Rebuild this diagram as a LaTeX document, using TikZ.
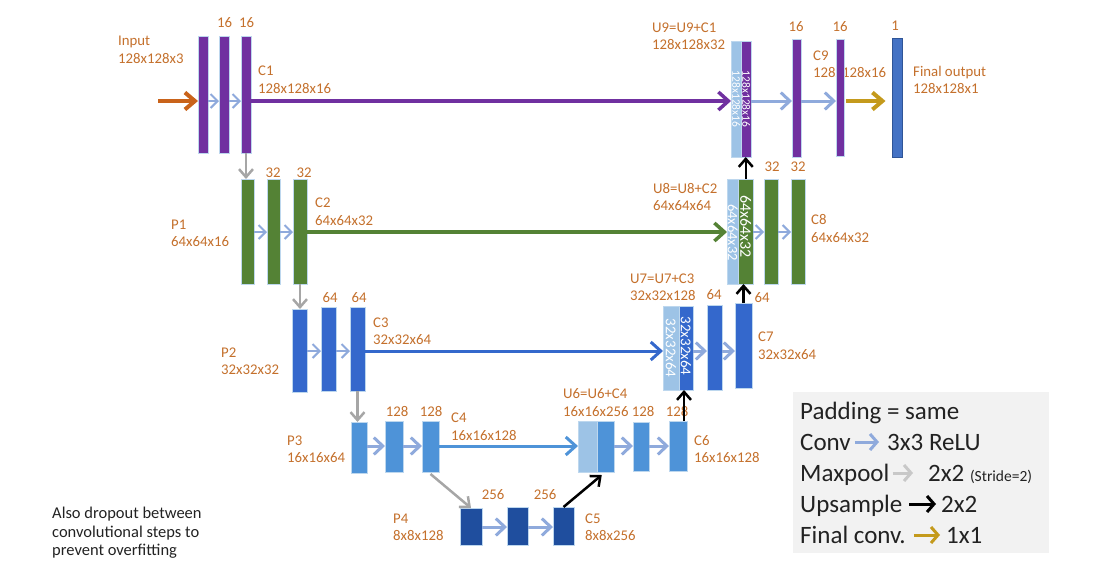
\documentclass[tikz,border=0pt]{standalone}
\usepackage{fontspec}
\setmainfont{Carlito}
\usetikzlibrary{arrows.meta,positioning,calc}
\definecolor{lblc}{HTML}{C4702C}
\definecolor{purp}{HTML}{7030A0}
\definecolor{grn}{HTML}{548235}
\definecolor{blu3}{HTML}{3468CC}
\definecolor{blu4}{HTML}{4E93D8}
\definecolor{blu5}{HTML}{1F4E9E}
\definecolor{outb}{HTML}{4472C4}
\definecolor{outbd}{HTML}{2F5597}
\definecolor{lightb}{HTML}{9DC3E6}
\definecolor{barline}{HTML}{BDD7EE}
\definecolor{convc}{HTML}{8FAADC}
\definecolor{poolc}{HTML}{A6A6A6}
\definecolor{poolleg}{HTML}{C8C8C8}
\definecolor{inc}{HTML}{C9631A}
\definecolor{goldc}{HTML}{C49A1C}
\definecolor{legbg}{HTML}{F2F2F2}
\definecolor{txtc}{HTML}{222222}
\newcommand{\mkbar}[6]{\node[barst,fill=#2,minimum width={(#5-#3)*1pt},minimum height={(#6-#4)*1pt}] (#1) at ({(#3+#5)/2},{(#4+#6)/2}) {};}
\tikzset{
  barst/.style={rectangle, draw=barline, line width=1pt, inner sep=0pt, outer sep=0pt},
  lbl/.style={text=lblc, font=\fontsize{14.8}{17.5}\selectfont, inner sep=0pt, align=left, anchor=west},
  num/.style={text=lblc, font=\fontsize{14.8}{17.5}\selectfont, inner sep=0pt},
  rot/.style={text=white, rotate=-90, inner sep=0pt},
  skip/.style={line width=3.5pt, -{Straight Barb[length=10pt,width=18pt]}},
  conv/.style={convc, line width=2pt, -{Straight Barb[length=7pt,width=14pt]}},
  convbig/.style={convc, line width=3pt, -{Straight Barb[length=9pt,width=17pt]}},
  pool/.style={poolc, line width=2.5pt, -{Straight Barb[length=8pt,width=14pt]}},
  up/.style={black, line width=2.5pt, -{Straight Barb[length=8pt,width=14pt]}},
  inarrow/.style={inc, line width=4pt, -{Straight Barb[length=10pt,width=17pt]}},
  final/.style={goldc, line width=4pt, -{Straight Barb[length=10pt,width=17pt]}},
  legbox/.style={rectangle, fill=legbg, draw=none, inner sep=0pt},
  legtxt/.style={text=txtc, font=\fontsize{25}{29}\selectfont, inner sep=0pt, anchor=base west},
  legarr/.style={line width=3pt, -{Straight Barb[length=7pt,width=16pt]}},
  note/.style={text=txtc, font=\fontsize{16.5}{18.5}\selectfont, inner sep=0pt, align=left, anchor=west}
}
\begin{document}
\begin{tikzpicture}[x=1pt,y=-1pt]
\useasboundingbox (0,0) rectangle (1116,584);
% row coordinates
\coordinate (r1) at (0,101);
\coordinate (r2) at (0,232);
\coordinate (r3) at (0,351);
\coordinate (r4) at (0,446);
\coordinate (r5) at (0,527);
\coordinate (inp) at (158,101);

% ---------- labels ----------
\node[lbl] (Lin) at (118,50) {Input\\128x128x3};
\node[lbl] (Lc1) at (258,79.5) {C1\\128x128x16};
\node[lbl] (Lu9) at (652,36) {U9=U9+C1\\128x128x32};
\node[lbl] (Lc9) at (813,64) {C9\\128x128x16};
\node[lbl] (Lout) at (913,80) {Final output\\128x128x1};
\node[lbl] (Lp1) at (171,233.5) {P1\\64x64x16};
\node[lbl] (Lc2) at (315,211.5) {C2\\64x64x32};
\node[lbl] (Lu8) at (653,197) {U8=U8+C2\\64x64x64};
\node[lbl] (Lc8) at (811,228.5) {C8\\64x64x32};
\node[lbl] (Lp2) at (221,361) {P2\\32x32x32};
\node[lbl] (Lc3) at (373,331) {C3\\32x32x64};
\node[lbl] (Lu7) at (630,287) {U7=U7+C3\\32x32x128};
\node[lbl] (Lc7) at (758,345.5) {C7\\32x32x64};
\node[lbl] (Lp3) at (287,449) {P3\\16x16x64};
\node[lbl] (Lc4) at (451,426.5) {C4\\16x16x128};
\node[lbl] (Lu6) at (563,402.5) {U6=U6+C4\\16x16x256};
\node[lbl] (Lc6) at (694,449) {C6\\16x16x128};
\node[lbl] (Lp4) at (393,527.5) {P4\\8x8x128};
\node[lbl] (Lc5) at (585,527) {C5\\8x8x256};

\node[num] (n12) at (224.5,23) {16};
\node[num] (n13) at (246.5,23) {16};
\node[num] (n92) at (796,27) {16};
\node[num] (n93) at (840,27) {16};
\node[num] (nout) at (895,26) {1};
\node[num] (n22) at (273,173) {32};
\node[num] (n23) at (304,173) {32};
\node[num] (n82) at (772,167) {32};
\node[num] (n83) at (798,167) {32};
\node[num] (n32) at (330,298) {64};
\node[num] (n33) at (359,298) {64};
\node[num] (n72) at (714,295) {64};
\node[num] (n73) at (762,298) {64};
\node[num] (n42) at (397,411.5) {128};
\node[num] (n43) at (431,411.5) {128};
\node[num] (n62) at (643,411.5) {128};
\node[num] (n63) at (677,411.5) {128};
\node[num] (n52) at (493,495) {256};
\node[num] (n53) at (545,495) {256};

% ---------- bars ----------
\mkbar{b11}{purp}{198}{36}{208}{153}
\mkbar{b12}{purp}{219}{36}{229}{153}
\mkbar{b13}{purp}{241}{36}{251}{153}
\mkbar{u9l}{lightb}{731}{41}{741.5}{157}
\mkbar{u9d}{purp}{741.5}{41}{751}{157}
\mkbar{b92}{purp}{792}{39}{801}{157}
\mkbar{b93}{purp}{836}{39}{844}{156}
\node[rectangle, draw=outbd, line width=1pt, fill=outb, inner sep=0pt, minimum width=10pt, minimum height=119pt] (bout) at (897,97.5) {};

\mkbar{b21}{grn}{241}{179}{254}{284}
\mkbar{b22}{grn}{267}{179}{280}{284}
\mkbar{b23}{grn}{293}{179}{307}{284}
\mkbar{u8l}{lightb}{727}{179}{738.5}{284}
\mkbar{u8d}{grn}{738.5}{179}{753}{284}
\mkbar{b82}{grn}{764}{179}{778}{284}
\mkbar{b83}{grn}{791}{179}{805}{284}

\mkbar{b31}{blu3}{292}{309}{307}{392}
\mkbar{b32}{blu3}{321}{307}{336}{391}
\mkbar{b33}{blu3}{350}{307}{365}{391}
\mkbar{u7l}{lightb}{663}{306}{679}{390}
\mkbar{u7d}{blu3}{679}{306}{693}{390}
\mkbar{b72}{blu3}{707}{305}{722}{390}
\mkbar{b73}{blu3}{735}{303}{752}{388}

\mkbar{b41}{blu4}{351}{422}{367}{473}
\mkbar{b42}{blu4}{385}{421}{403}{472}
\mkbar{b43}{blu4}{422}{421}{439}{472}
\mkbar{u6l}{lightb}{578}{421}{597.5}{472}
\mkbar{u6d}{blu4}{597.5}{421}{614}{472}
\mkbar{b62}{blu4}{633}{422}{649}{471}
\mkbar{b63}{blu4}{669}{421}{687}{471}

\mkbar{b51}{blu5}{460}{508}{482}{545}
\mkbar{b52}{blu5}{507}{507}{528}{545}
\mkbar{b53}{blu5}{553}{507}{574}{545}

% rotated texts inside concatenation blocks
\node[rot, font=\fontsize{11.5}{12}\selectfont] (t9l) at (u9l) {128x128x16};
\node[rot, font=\fontsize{11.5}{12}\selectfont] (t9d) at (u9d) {128x128x16};
\node[rot, font=\fontsize{14.5}{15}\selectfont] (t8l) at ([yshift=-1pt]u8l.center) {64x64x32};
\node[rot, font=\fontsize{16}{17}\selectfont] (t8d) at ([yshift=5pt]u8d.center) {64x64x32};
\node[rot, font=\fontsize{15}{16}\selectfont] (t7l) at (u7l) {32x32x64};
\node[rot, font=\fontsize{15}{16}\selectfont] (t7d) at ([yshift=2pt]u7d.center) {32x32x64};

% ---------- connectors ----------
\draw[inarrow] (inp) -- (b11.west |- r1);
\draw[conv] (b11.east |- r1) -- (b12.west |- r1);
\draw[conv] (b12.east |- r1) -- (b13.west |- r1);
\draw[skip, purp] (b13.east |- r1) -- (u9l.west |- r1);
\draw[convbig] (u9d.east |- r1) -- (b92.west |- r1);
\draw[convbig] (b92.east |- r1) -- (b93.west |- r1);
\draw[final, shorten <=2pt, shorten >=6pt] (b93.east |- r1) -- (bout.west |- r1);

\draw[conv] (b21.east |- r2) -- (b22.west |- r2);
\draw[conv] (b22.east |- r2) -- (b23.west |- r2);
\draw[skip, grn] (b23.east |- r2) -- (u8l.west |- r2);
\draw[conv] (u8d.east |- r2) -- (b82.west |- r2);
\draw[conv] (b82.east |- r2) -- (b83.west |- r2);

\draw[conv] (b31.east |- r3) -- (b32.west |- r3);
\draw[conv] (b32.east |- r3) -- (b33.west |- r3);
\draw[skip, blu3, line width=3pt] (b33.east |- r3) -- (u7l.west |- r3);
\draw[convbig] (u7d.east |- r3) -- (b72.west |- r3);
\draw[convbig] (b72.east |- r3) -- (b73.west |- r3);

\draw[convbig] (b41.east |- r4) -- (b42.west |- r4);
\draw[convbig] (b42.east |- r4) -- (b43.west |- r4);
\draw[skip, blu4, line width=3pt] (b43.east |- r4) -- (u6l.west |- r4);
\draw[convbig] (u6d.east |- r4) -- (b62.west |- r4);
\draw[convbig] (b62.east |- r4) -- (b63.west |- r4);

\draw[convbig] (b51.east |- r5) -- (b52.west |- r5);
\draw[convbig] (b52.east |- r5) -- (b53.west |- r5);

\draw[pool] (b13.south) -- (b13.south |- b21.north);
\draw[pool] (b23.south) -- (b23.south |- b31.north);
\draw[pool] (b33.south) -- (b33.south |- b41.north);
\draw[pool] ([yshift=-2pt]b43.south) -- (b51.north);

\draw[up] (b53.north) -- ([xshift=-4pt,yshift=-3pt]u6d.south);
\draw[up] ([xshift=6pt]b63.north) -- ([xshift=6pt]b63.north |- u7d.south);
\draw[up] (b73.north) -- (b73.north |- u8d.south);
\draw[up] (u8d.north) -- (u8d.north |- u9d.south);

% ---------- legend ----------
\node[legbox, minimum width=256pt, minimum height=161pt] (leg) at (921,472.5) {};
\node[legtxt] (lg1) at (800,419) {Padding = same};
\node[legtxt] (lg2a) at (800,450) {Conv};
\node[legtxt] (lg2b) at (887,450) {3x3 ReLU};
\node[legtxt] (lg3a) at (800,481) {Maxpool};
\node[legtxt] (lg3b) at (928,481) {2x2 {\fontsize{15.5}{18}\selectfont (Stride=2)}};
\node[legtxt] (lg4a) at (800,512) {Upsample};
\node[legtxt] (lg4b) at (941,512) {2x2};
\node[legtxt] (lg5a) at (800,543) {Final conv.};
\node[legtxt] (lg5b) at (946,543) {1x1};
\draw[legarr, convc, shorten <=4pt, shorten >=8pt] ([yshift=8pt]lg2a.base east) -- ([yshift=8pt]lg2b.base west);
\draw[legarr, poolleg, shorten <=3pt, shorten >=15pt] ([yshift=8pt]lg3a.base east) -- ([yshift=8pt]lg3b.base west);
\draw[legarr, black, shorten <=7pt, shorten >=5pt] ([yshift=8pt]lg4a.base east) -- ([yshift=8pt]lg4b.base west);
\draw[legarr, goldc, shorten <=8pt, shorten >=6pt] ([yshift=8pt]lg5a.base east) -- ([yshift=8pt]lg5b.base west);

% ---------- note ----------
\node[note] (note) at (52,533) {Also dropout between\\convolutional steps to\\prevent overfitting};
\end{tikzpicture}
\end{document}
